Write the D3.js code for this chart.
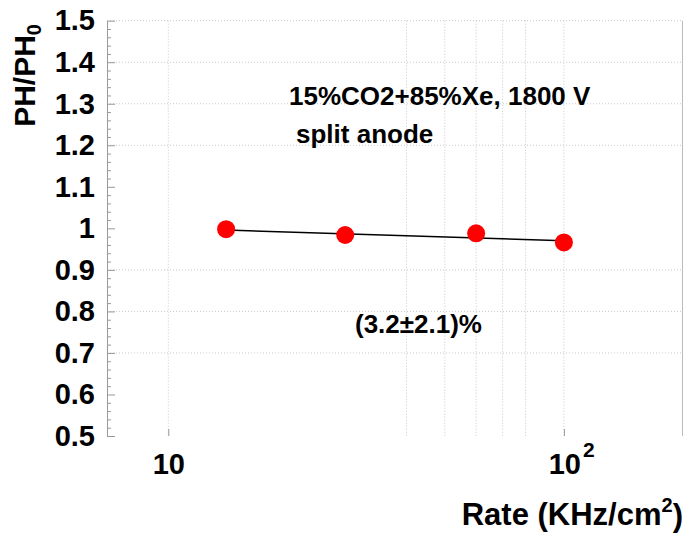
<!DOCTYPE html>
<html lang="en">
  <head>
    <meta charset="UTF-8" />
    <title>PH/PH0 vs rate</title>
    <style>
      body { margin: 0; background: #fff; }
      svg { display: block; font-family: "Liberation Sans", Arial, Helvetica, sans-serif; font-weight: bold; }
    </style>
  </head>
  <body>
    <div id="chart">
      <svg width="684" height="535"></svg>
    </div>
    <script src="https://d3js.org/d3.v7.min.js"></script>
    <script>
      // measured points
      var rate = [14, 28, 60, 100];
      var ratio = [0.998, 0.984, 0.988, 0.966];
      // straight fit through them
      var fitRate = [14, 100];
      var fitRatio = [0.996, 0.970];
      // ticks and grid
      var yMajor = [0.5, 0.6, 0.7, 0.8, 0.9, 1.0, 1.1, 1.2, 1.3, 1.4, 1.5];
      var yGrid = [0.7, 0.8, 0.9, 1.2, 1.3, 1.4, 1.5];
      var xGrid = [10, 40, 50, 60, 70, 80, 100];
      var xLabels = [10, 100];
      var notes = ["15%CO2+85%Xe, 1800 V", "split anode", "(3.2\u00b12.1)%"];

      var svg = d3.select("#chart>svg");
      var pLeft = 107, pRight = 683, pTop = 20.7, pBottom = 436;

      var x = d3.scaleLog().domain([7, 200]).range([pLeft, pRight]);
      var y = d3.scaleLinear().domain([0.5, 1.5]).range([pBottom, pTop]);

      // minor y ticks, four between each pair of major ticks
      var yMinor = [];
      for (var i = 0; i < yMajor.length - 1; i++) {
        for (var k = 1; k < 5; k++) yMinor.push(yMajor[i] + k * 0.02);
      }

      var grid = svg.append("g")
        .attr("stroke", "#c8c8c8")
        .attr("stroke-width", 1)
        .attr("stroke-dasharray", "1,2");
      grid.selectAll(".hg").data(yGrid).enter().append("line")
        .attr("x1", pLeft).attr("x2", pRight)
        .attr("y1", function (d) { return y(d); })
        .attr("y2", function (d) { return y(d); });
      grid.selectAll(".vg").data(xGrid).enter().append("line")
        .attr("y1", pTop).attr("y2", pBottom)
        .attr("x1", function (d) { return x(d); })
        .attr("x2", function (d) { return x(d); });

      // right frame
      svg.append("line")
        .attr("x1", pRight - 0.5).attr("x2", pRight - 0.5)
        .attr("y1", pTop).attr("y2", pBottom)
        .attr("stroke", "#bbb");

      // y axis: ticks point into the frame, labels on the left
      var yAxis = svg.append("g")
        .attr("transform", "translate(" + pLeft + ",0)")
        .call(d3.axisLeft(y).tickValues(yMajor).tickSizeInner(-8).tickSizeOuter(0)
          .tickPadding(12).tickFormat(d3.format("~")));
      yAxis.select(".domain").attr("stroke", "#999");
      yAxis.selectAll(".tick line").attr("stroke", "#999");
      yAxis.selectAll(".tick text")
        .attr("fill", "#000")
        .style("font-size", "29px")
        .style("font-family", "inherit");

      var yMinorAxis = svg.append("g")
        .attr("transform", "translate(" + pLeft + ",0)")
        .call(d3.axisLeft(y).tickValues(yMinor).tickSize(-4).tickFormat(""));
      yMinorAxis.select(".domain").remove();
      yMinorAxis.selectAll(".tick line").attr("stroke", "#999");

      // x axis labels only, 10 and 10^2
      var xAxis = svg.append("g")
        .attr("transform", "translate(0," + pBottom + ")")
        .call(d3.axisBottom(x).tickValues(xLabels).tickSizeInner(-7).tickSizeOuter(0)
          .tickPadding(17).tickFormat(""));
      xAxis.select(".domain").remove();
      xAxis.selectAll(".tick line").attr("stroke", "#999");
      xAxis.selectAll(".tick text")
        .attr("fill", "#000")
        .style("font-size", "29px")
        .style("font-family", "inherit")
        .each(function (d) {
          var t = d3.select(this);
          var p = Math.round(Math.log10(d));
          if (p === 1) {
            t.text("10");
          } else {
            t.attr("dx", "0.25em");
            t.append("tspan").text("10");
            t.append("tspan").attr("dy", "-0.8em").attr("dx", "0.1em")
              .style("font-size", "21px").text(p);
          }
        });

      // axis titles
      var xt = svg.append("text")
        .attr("x", 683).attr("y", 525)
        .attr("text-anchor", "end")
        .style("font-size", "31px");
      xt.append("tspan").text("Rate (KHz/cm");
      xt.append("tspan").attr("dy", "-0.65em").style("font-size", "20px").text("2");
      xt.append("tspan").attr("dy", "0.45em").text(")");

      var yt = svg.append("text")
        .attr("transform", "translate(35,24) rotate(-90)")
        .attr("text-anchor", "end")
        .style("font-size", "30px");
      yt.append("tspan").text("PH/PH");
      yt.append("tspan").attr("dy", "0.3em").style("font-size", "20px").text("0");

      // fit line and points
      var line = d3.line()
        .x(function (d) { return x(d[0]); })
        .y(function (d) { return y(d[1]); });
      svg.append("path")
        .datum(d3.zip(fitRate, fitRatio))
        .attr("fill", "none")
        .attr("stroke", "#000")
        .attr("stroke-width", 1.5)
        .attr("d", line);

      svg.selectAll(".pt").data(d3.zip(rate, ratio)).enter().append("circle")
        .attr("cx", function (d) { return x(d[0]); })
        .attr("cy", function (d) { return y(d[1]); })
        .attr("r", 9)
        .attr("fill", "#ff0000");

      // annotations
      var notePos = [[289, 105], [296, 143], [355, 333]];
      svg.selectAll(".note").data(notes).enter().append("text")
        .attr("x", function (d, i) { return notePos[i][0]; })
        .attr("y", function (d, i) { return notePos[i][1]; })
        .style("font-size", "26px")
        .text(function (d) { return d; });
    </script>
  </body>
</html>
